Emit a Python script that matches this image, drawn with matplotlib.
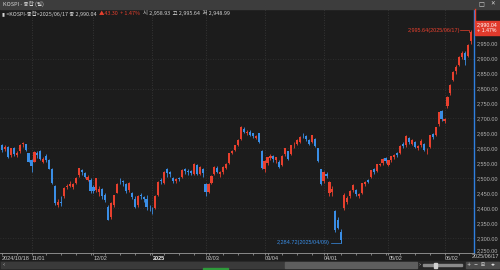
import matplotlib
matplotlib.use("Agg")
import matplotlib.pyplot as plt
from matplotlib.patches import Rectangle
from matplotlib.lines import Line2D
import numpy as np

# KOSPI daily candles, 2024/10/18 - 2025/06/17
dates = (
    ["2024/10/" + d for d in ["18", "21", "22", "23", "24", "25", "28", "29", "30", "31"]]
    + ["2024/11/" + d for d in ["01", "04", "05", "06", "07", "08", "11", "12", "13", "14", "15",
                                "18", "19", "20", "21", "22", "25", "26", "27", "28", "29"]]
    + ["2024/12/" + d for d in ["02", "03", "04", "05", "06", "09", "10", "11", "12", "13",
                                "16", "17", "18", "19", "20", "23", "24", "26", "27", "30"]]
    + ["2025/01/" + d for d in ["02", "03", "06", "07", "08", "09", "10", "13", "14", "15",
                                "16", "17", "20", "21", "22", "23", "24", "31"]]
    + ["2025/02/" + d for d in ["03", "04", "05", "06", "07", "10", "11", "12", "13", "14",
                                "17", "18", "19", "20", "21", "24", "25", "26", "27", "28"]]
    + ["2025/03/" + d for d in ["04", "05", "06", "07", "10", "11", "12", "13", "14", "17",
                                "18", "19", "20", "21", "24", "25", "26", "27", "28", "31"]]
    + ["2025/04/" + d for d in ["01", "02", "03", "04", "07", "08", "09", "10", "11", "14", "15",
                                "16", "17", "18", "21", "22", "23", "24", "25", "28", "29", "30"]]
    + ["2025/05/" + d for d in ["02", "07", "08", "09", "12", "13", "14", "15", "16", "19",
                                "20", "21", "22", "23", "26", "27", "28", "29", "30"]]
    + ["2025/06/" + d for d in ["02", "04", "05", "09", "10", "11", "12", "13", "16", "17"]]
)

opens = [
    2610, 2598, 2605, 2577, 2600, 2578, 2590, 2615, 2614, 2583,
    2560, 2555, 2585, 2590, 2555, 2575, 2560, 2530, 2475, 2410, 2420, 2440, 2472, 2475, 2472, 2485, 2510, 2528, 2518, 2495, 2495,
    2470, 2460, 2455, 2465, 2445, 2405, 2370, 2410, 2452, 2495, 2490, 2480, 2460, 2450, 2430, 2410, 2445, 2437, 2430, 2400,
    2400, 2400, 2445, 2495, 2485, 2530, 2520, 2500, 2490, 2502, 2505, 2530, 2525, 2525, 2515, 2545, 2515, 2530,
    2480, 2455, 2485, 2515, 2535, 2515, 2520, 2535, 2550, 2585, 2595, 2612, 2630, 2665, 2650, 2655, 2650, 2635, 2650, 2590,
    2530, 2550, 2568, 2575, 2560, 2555, 2545, 2580, 2590, 2580, 2610, 2615, 2620, 2645, 2640, 2628, 2620, 2630, 2600, 2530,
    2490, 2515, 2450, 2455, 2390, 2360, 2320, 2400, 2420, 2440, 2460, 2460, 2440, 2450, 2480, 2495, 2505, 2530, 2525, 2545, 2550, 2568,
    2545, 2560, 2570, 2585, 2585, 2615, 2610, 2635, 2615, 2620, 2600, 2610, 2615, 2590, 2605, 2648, 2645, 2680, 2725,
    2690, 2740, 2785, 2830, 2860, 2880, 2905, 2920, 2910, 2958.93,
]
highs = [
    2615, 2612, 2608, 2602, 2604, 2590, 2614, 2620, 2616, 2586,
    2563, 2590, 2590, 2596, 2570, 2580, 2566, 2533, 2478, 2432, 2440, 2472, 2482, 2490, 2485, 2505, 2535, 2530, 2522, 2510, 2500,
    2478, 2502, 2475, 2468, 2450, 2410, 2420, 2445, 2485, 2500, 2495, 2485, 2486, 2455, 2442, 2445, 2450, 2442, 2445, 2410,
    2405, 2445, 2492, 2500, 2523, 2533, 2525, 2503, 2500, 2505, 2530, 2535, 2530, 2528, 2550, 2548, 2540, 2535,
    2485, 2485, 2512, 2540, 2540, 2525, 2542, 2550, 2585, 2595, 2612, 2630, 2675, 2670, 2660, 2660, 2652, 2645, 2652, 2595,
    2560, 2572, 2580, 2578, 2572, 2560, 2578, 2602, 2592, 2612, 2620, 2630, 2640, 2650, 2645, 2632, 2646, 2635, 2602, 2532,
    2525, 2520, 2490, 2475, 2395, 2370, 2330, 2450, 2440, 2460, 2480, 2465, 2452, 2485, 2492, 2498, 2528, 2533, 2548, 2552, 2568, 2570,
    2562, 2576, 2582, 2588, 2610, 2620, 2643, 2638, 2630, 2625, 2612, 2630, 2618, 2600, 2646, 2652, 2672, 2723, 2728,
    2702, 2775, 2815, 2860, 2880, 2910, 2925, 2925, 2950, 2995.64,
]
lows = [
    2588, 2590, 2568, 2572, 2576, 2570, 2586, 2603, 2590, 2553,
    2520, 2553, 2568, 2560, 2550, 2555, 2530, 2480, 2410, 2405, 2408, 2435, 2465, 2470, 2465, 2480, 2505, 2512, 2500, 2490, 2450,
    2452, 2455, 2440, 2432, 2420, 2360, 2365, 2405, 2450, 2480, 2475, 2452, 2455, 2430, 2402, 2405, 2432, 2420, 2395, 2390,
    2380, 2398, 2440, 2480, 2480, 2505, 2505, 2485, 2485, 2490, 2500, 2515, 2510, 2510, 2512, 2512, 2510, 2505,
    2440, 2450, 2480, 2512, 2518, 2505, 2515, 2530, 2548, 2580, 2590, 2608, 2628, 2650, 2645, 2640, 2635, 2630, 2618, 2530,
    2520, 2545, 2562, 2555, 2552, 2535, 2540, 2575, 2562, 2578, 2600, 2610, 2618, 2635, 2625, 2610, 2618, 2605, 2555, 2478,
    2485, 2500, 2440, 2440, 2320, 2330, 2284.72, 2395, 2415, 2435, 2455, 2440, 2435, 2448, 2475, 2485, 2500, 2515, 2520, 2540, 2545, 2552,
    2540, 2555, 2565, 2572, 2580, 2600, 2605, 2615, 2610, 2600, 2595, 2605, 2590, 2580, 2600, 2632, 2640, 2675, 2692,
    2685, 2735, 2780, 2825, 2850, 2875, 2900, 2880, 2905, 2948.99,
]
closes = [
    2594, 2604, 2571, 2600, 2581, 2583, 2612, 2618, 2594, 2556,
    2542, 2589, 2577, 2564, 2565, 2561, 2532, 2483, 2417, 2419, 2417, 2469, 2472, 2482, 2481, 2501, 2534, 2520, 2503, 2505, 2456,
    2456, 2500, 2464, 2442, 2428, 2361, 2418, 2443, 2482, 2494, 2489, 2457, 2484, 2436, 2404, 2442, 2441, 2430, 2405, 2399,
    2399, 2442, 2489, 2492, 2522, 2516, 2515, 2490, 2497, 2497, 2527, 2524, 2520, 2518, 2547, 2515, 2537, 2517,
    2454, 2482, 2509, 2537, 2522, 2521, 2539, 2548, 2583, 2591, 2610, 2627, 2672, 2654, 2655, 2645, 2641, 2641, 2622, 2533,
    2558, 2570, 2576, 2563, 2570, 2538, 2575, 2600, 2566, 2611, 2612, 2629, 2637, 2643, 2630, 2616, 2644, 2607, 2558, 2481,
    2521, 2506, 2487, 2465, 2328, 2334, 2294, 2445, 2433, 2456, 2477, 2447, 2447, 2483, 2488, 2489, 2526, 2522, 2546, 2549, 2565, 2557,
    2560, 2574, 2578, 2577, 2607, 2608, 2641, 2621, 2627, 2604, 2609, 2626, 2594, 2592, 2644, 2637, 2670, 2721, 2698,
    2699, 2771, 2812, 2856, 2872, 2907, 2920, 2895, 2947, 2990.04,
]

tick_dates = ["2024/10/18", "2024/11/01", "2024/12/02", "2025/01/02", "2025/02/03",
              "2025/03/04", "2025/04/01", "2025/05/02", "2025/06/02"]
tick_labels = ["2024/10/18", "11/01", "12/02", "2025", "02/03", "03/04", "04/01", "05/02", "06/02"]

RED = "#e8402e"
BLUE = "#3a8ee6"
BG = "#1c1c1c"
W, H = 500, 270
CJK = ["Noto Sans CJK KR", "Noto Sans CJK JP", "DejaVu Sans"]

plt.rcParams["font.family"] = CJK


def fx(x):
    return x / W


def fy(y):
    return 1 - y / H


opens = np.array(opens, dtype=float)
highs = np.array(highs, dtype=float)
lows = np.array(lows, dtype=float)
closes = np.array(closes, dtype=float)
idx = np.arange(len(closes))

fig = plt.figure(figsize=(5, 2.7), dpi=100, facecolor=BG)
ax = fig.add_axes([0, fy(253), fx(474), (253 - 9) / H])
ax.set_facecolor(BG)

col = np.where(closes >= opens, RED, BLUE)
ax.vlines(idx, lows, highs, colors=col, lw=0.6, zorder=3)
body = np.maximum(np.abs(closes - opens), 0.8)
ax.bar(idx, body, bottom=np.minimum(opens, closes), width=0.72, color=col, lw=0, zorder=4)

ax.set_xlim(-0.68, 160.0)
ax.set_ylim(2250, 2250 + 244 / 0.299)

# grid
tpos = [dates.index(d) for d in tick_dates]
for p in tpos[1:]:
    ax.axvline(p, color="#3c3c3c", lw=0.6, ls=(0, (1, 2)), zorder=1)
for v in range(2300, 3000, 100):
    ax.axhline(v, color="#333333", lw=0.6, ls=(0, (1, 2)), zorder=1)

# axes
for s in ["top", "left"]:
    ax.spines[s].set_visible(False)
ax.spines["bottom"].set_color("#9a9a9a")
ax.spines["bottom"].set_linewidth(0.6)
ax.spines["right"].set_color("#2f7fe0")
ax.spines["right"].set_linewidth(1.0)

ax.yaxis.tick_right()
yt = np.arange(2250, 2951, 50)
ax.set_yticks(yt)
ax.set_yticklabels([f"{v:,.2f}" for v in yt], family="Liberation Sans")
ax.tick_params(axis="y", length=0, pad=2, labelsize=4, labelcolor="#b4b4b4")
ax.get_yticklabels()[0].set_va("bottom")

ax.set_xticks(tpos)
ax.set_xticklabels(tick_labels, ha="left", family="Liberation Sans")
ax.set_xticks(np.arange(5, 160, 5), minor=True)
ax.tick_params(axis="x", which="both", length=1.5, width=0.5, color="#aaaaaa",
               pad=1, labelsize=4, labelcolor="#c8c8c8")
ax.get_xticklabels()[3].set_color("#f0f0f0")
ax.get_xticklabels()[3].set_fontweight("bold")
fig.text(fx(499), fy(257), dates[-1], ha="right", va="center", fontsize=4,
         color="#c8c8c8", family="Liberation Sans")

# high / low marks
hi = int(np.argmax(highs))
lo = int(np.argmin(lows))
ax.plot([hi - 3.6, hi - 0.6, hi - 0.6], [highs[hi], highs[hi], highs[hi] - 6], color=RED, lw=0.5, zorder=5)
ax.text(hi - 3.8, highs[hi], f"{highs[hi]:,.2f}({dates[hi]})", color=RED, fontsize=4,
        ha="right", va="center", family="Liberation Sans")
ax.plot([lo - 3.6, lo, lo], [lows[lo], lows[lo], lows[lo] + 8], color=BLUE, lw=0.5, zorder=5)
ax.text(lo - 3.8, lows[lo], f"{lows[lo]:,.2f}({dates[lo]})", color=BLUE, fontsize=4,
        ha="right", va="center", family="Liberation Sans")

# title bar
fig.patches.append(Rectangle((0, fy(9)), 1, 9 / H, transform=fig.transFigure, color="#3d3d3d", zorder=0))
fig.text(fx(3), fy(4.3), "KOSPI - 종합 (일)", fontsize=4, color="#d6d6d6", va="center")
fig.text(fx(478), fy(4.3), "□", fontsize=4.5, color="#d6d6d6", va="center", family="DejaVu Sans")
fig.text(fx(490), fy(4.3), "✕", fontsize=4, color="#d6d6d6", va="center", family="DejaVu Sans")

# header line, pieces placed one after another
pieces = [("▮ <KOSPI-종합>2025/06/17 종 2,990.04 ", "#d6d6d6"),
          ("▲43.30  + 1.47% ", RED),
          ("시 2,958.93  고 2,995.64  저 2,948.99", "#d6d6d6")]
renderer = fig.canvas.get_renderer()
xcur = fx(2)
for s, c in pieces:
    t = fig.text(xcur, fy(13.5), s, fontsize=3.9, color=c, va="center")
    bb = t.get_window_extent(renderer)
    xcur += bb.width / W + fx(1.5)

# current price marker
fig.lines.append(Line2D([fx(474.5), fx(474.5)], [fy(9), fy(28)], color=RED, lw=1.0, transform=fig.transFigure))
fig.patches.append(Rectangle((fx(475), fy(35)), 25 / W, 14 / H, transform=fig.transFigure, color="#e03a2c"))
fig.text(fx(477), fy(24.5), f"{closes[-1]:,.2f}", fontsize=3.8, color="white", va="center", family="Liberation Sans")
fig.text(fx(477), fy(31), "+ 1.47%", fontsize=3.8, color="white", va="center", family="Liberation Sans")

# scroll bar strip
fig.patches.append(Rectangle((0, 0), 1, 9 / H, transform=fig.transFigure, color="#262626"))
fig.patches.append(Rectangle((fx(1), fy(268)), 6 / W, 6 / H, transform=fig.transFigure, color="#3a3a3a"))
fig.patches.append(Rectangle((fx(8), fy(268)), 277 / W, 6 / H, transform=fig.transFigure, color="#3a3a3a"))
fig.patches.append(Rectangle((fx(285), fy(268)), 132 / W, 6 / H, transform=fig.transFigure, color="#5e5e5e"))
fig.patches.append(Rectangle((fx(423), fy(265.5)), 39 / W, 1.2 / H, transform=fig.transFigure, color="#8a8a8a"))
fig.patches.append(Rectangle((fx(434), fy(267.5)), 2.5 / W, 5 / H, transform=fig.transFigure, color="#d0d0d0"))
fig.patches.append(Rectangle((fx(203), 0), 25 / W, 2 / H, transform=fig.transFigure, color="#2e9a3a"))
for bx, s in [(466, "+"), (473, "−"), (480, "⊞"), (487, "◂▸")]:
    w = 12 if s == "◂▸" else 6
    fig.patches.append(Rectangle((fx(bx), fy(268)), w / W, 6 / H, transform=fig.transFigure, color="#4a4a4a"))
    fig.text(fx(bx + w / 2), fy(265), s, fontsize=3.5, color="#e0e0e0", ha="center", va="center",
             family="DejaVu Sans")
fig.text(fx(3), fy(265), "‹", fontsize=4, color="#d0d0d0", va="center", family="DejaVu Sans")
fig.text(fx(419), fy(265), "›", fontsize=4, color="#d0d0d0", va="center", family="DejaVu Sans")

fig.savefig("out.png", dpi=100, facecolor=BG)
